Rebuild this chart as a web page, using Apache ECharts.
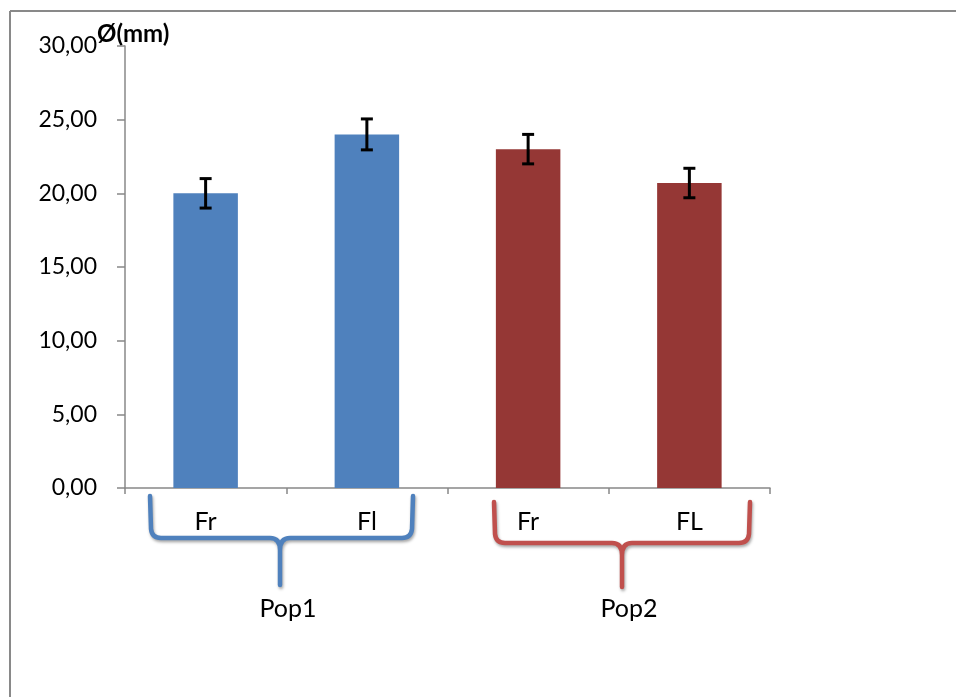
<!DOCTYPE html>
<html>
<head>
<meta charset="utf-8">
<script src="https://cdn.jsdelivr.net/npm/echarts@6/dist/echarts.min.js"></script>
<style>
html,body{margin:0;padding:0;background:#fff;}
#chart{width:956px;height:697px;}
</style>
</head>
<body>
<div id="chart"></div>
<script>
// ---- data ----
const categories = ['Fr', 'Fl', 'Fr', 'FL'];
const groups = ['Pop1', 'Pop1', 'Pop2', 'Pop2'];
const values = [20.0, 24.0, 23.0, 20.7];
const errors = [1.0, 1.05, 1.0, 1.0];
const groupNames = ['Pop1', 'Pop2'];
const yTicks = { min: 0, max: 30, interval: 5 };
const yTitle = 'Ø(mm)';

// ---- styles ----
const FONT = 'Lato, "Open Sans", sans-serif';
const barColors = { Pop1: '#4F81BD', Pop2: '#953735' };
const braceColors = { Pop1: '#4F81BD', Pop2: '#C0504D' };
const axisColor = '#888888';

const chart = echarts.init(document.getElementById('chart'));

function bracePath(x0, x1, xc, yT, yH, yB) {
  return 'M' + x0 + ',' + yT +
    ' L' + (x0 + 1) + ',' + (yH - 9) +
    ' Q' + (x0 + 2) + ',' + yH + ' ' + (x0 + 11) + ',' + yH +
    ' L' + (xc - 10) + ',' + yH +
    ' Q' + xc + ',' + yH + ' ' + xc + ',' + (yH + 12) +
    ' L' + xc + ',' + yB +
    ' M' + xc + ',' + (yH + 12) +
    ' Q' + xc + ',' + yH + ' ' + (xc + 10) + ',' + yH +
    ' L' + (x1 - 11) + ',' + yH +
    ' Q' + (x1 - 2) + ',' + yH + ' ' + (x1 - 1) + ',' + (yH - 9) +
    ' L' + x1 + ',' + yT;
}

// brace layout (annotation geometry)
const braceLayout = {
  Pop1: { x0: 150, x1: 413, xc: 280, yT: 496, yH: 538, yB: 585, labelX: 288 },
  Pop2: { x0: 494, x1: 750, xc: 622, yT: 502, yH: 543, yB: 587, labelX: 629 }
};

const graphics = [
  { type: 'line', shape: { x1: 10, y1: 11, x2: 956, y2: 11 }, style: { stroke: '#898989', lineWidth: 2 }, silent: true },
  { type: 'line', shape: { x1: 10, y1: 11, x2: 10, y2: 697 }, style: { stroke: '#898989', lineWidth: 2 }, silent: true },
  { type: 'text', x: 97, y: 34, style: { text: yTitle, fontSize: 24, fontWeight: 'bold', fontFamily: FONT, fill: '#000', verticalAlign: 'middle' } }
];
groupNames.forEach(function (g) {
  const b = braceLayout[g];
  graphics.push({
    type: 'text', x: b.labelX, y: 609,
    style: { text: g, fontSize: 25, fontFamily: FONT, fill: '#000', align: 'center', verticalAlign: 'middle' }
  });
});

const option = {
  backgroundColor: '#ffffff',
  animation: false,
  grid: { left: 125, right: 186, top: 46, bottom: 209, containLabel: false },
  xAxis: {
    type: 'category',
    data: categories,
    axisLine: { lineStyle: { color: axisColor, width: 1.5 } },
    axisTick: { show: true, length: 6, lineStyle: { color: axisColor, width: 1.5 } },
    axisLabel: { color: '#000', fontSize: 25, fontFamily: FONT, margin: 21 },
    splitLine: { show: false }
  },
  yAxis: {
    type: 'value',
    min: yTicks.min, max: yTicks.max, interval: yTicks.interval,
    axisLine: { show: true, lineStyle: { color: axisColor, width: 1.5 } },
    axisTick: { show: true, length: 8, lineStyle: { color: axisColor, width: 1.5 } },
    splitLine: { show: false },
    axisLabel: {
      color: '#000', fontSize: 23, fontFamily: FONT, margin: 28,
      formatter: function (v) { return v.toFixed(2).replace('.', ','); }
    }
  },
  series: [
    {
      type: 'bar',
      barWidth: '40%',
      data: values.map(function (v, i) {
        return { value: v, itemStyle: { color: barColors[groups[i]] } };
      })
    },
    {
      type: 'custom',
      z: 5,
      data: values.map(function (v, i) { return [i, v - errors[i], v + errors[i]]; }),
      renderItem: function (params, api) {
        const lo = api.coord([api.value(0), api.value(1)]);
        const hi = api.coord([api.value(0), api.value(2)]);
        const hw = 6;
        const st = { stroke: '#000', lineWidth: 3 };
        return {
          type: 'group',
          children: [
            { type: 'line', shape: { x1: hi[0], y1: hi[1], x2: lo[0], y2: lo[1] }, style: st },
            { type: 'line', shape: { x1: hi[0] - hw, y1: hi[1], x2: hi[0] + hw, y2: hi[1] }, style: st },
            { type: 'line', shape: { x1: lo[0] - hw, y1: lo[1], x2: lo[0] + hw, y2: lo[1] }, style: st }
          ]
        };
      }
    },
    {
      type: 'custom',
      coordinateSystem: 'none',
      silent: true,
      data: groupNames.map(function (g, i) { return [i]; }),
      renderItem: function (params, api) {
        const g = groupNames[params.dataIndex];
        const b = braceLayout[g];
        return {
          type: 'path',
          shape: { pathData: bracePath(b.x0, b.x1, b.xc, b.yT, b.yH, b.yB) },
          style: {
            fill: null, stroke: braceColors[g], lineWidth: 4.5, lineCap: 'round', lineJoin: 'round',
            shadowBlur: 3, shadowColor: 'rgba(0,0,0,0.35)', shadowOffsetX: 1, shadowOffsetY: 2
          }
        };
      }
    }
  ],
  graphic: graphics
};
chart.setOption(option);
</script>
</body>
</html>
